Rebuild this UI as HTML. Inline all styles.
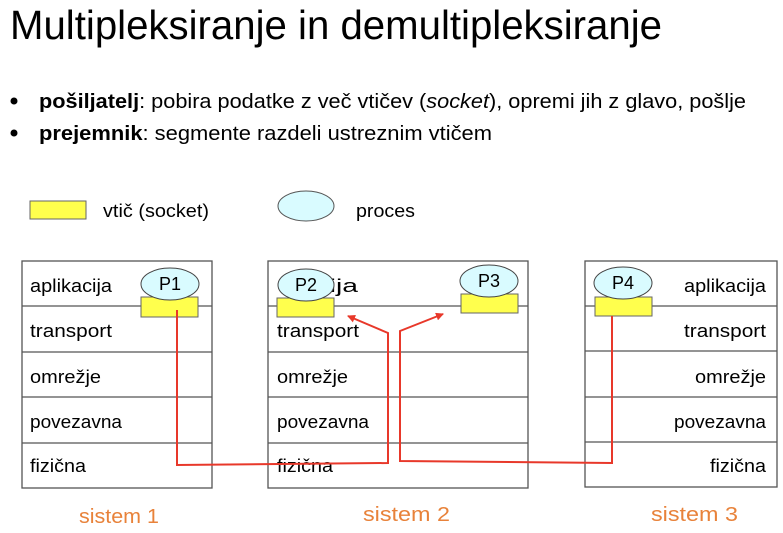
<!DOCTYPE html>
<html><head><meta charset="utf-8"><style>
html,body{margin:0;padding:0;background:#fff}
svg{display:block}
text{font-family:"Liberation Sans",sans-serif}
</style></head><body>
<svg width="783" height="533" viewBox="0 0 783 533" xmlns="http://www.w3.org/2000/svg">
<defs><marker id="ah" markerWidth="8" markerHeight="8" refX="7" refY="4" orient="auto" markerUnits="userSpaceOnUse"><path d="M0,0 L8,4 L0,8 z" fill="#e8382a"/></marker></defs>
<text x="10" y="39" font-size="41" textLength="652" lengthAdjust="spacingAndGlyphs" fill="#000">Multipleksiranje in demultipleksiranje</text>
<circle cx="14" cy="101" r="3.5" fill="#000"/>
<text x="39" y="108" font-size="20" textLength="707" lengthAdjust="spacingAndGlyphs"><tspan font-weight="bold">pošiljatelj</tspan>: pobira podatke z več vtičev (<tspan font-style="italic">socket</tspan>), opremi jih z glavo, pošlje</text>
<circle cx="14" cy="133" r="3.5" fill="#000"/>
<text x="39" y="140" font-size="20" textLength="453" lengthAdjust="spacingAndGlyphs"><tspan font-weight="bold">prejemnik</tspan>: segmente razdeli ustreznim vtičem</text>
<rect x="30" y="201" width="56" height="18" fill="#ffff4d" stroke="#666"/>
<text x="103" y="217" font-size="18" textLength="106" lengthAdjust="spacingAndGlyphs">vtič (socket)</text>
<ellipse cx="306" cy="206" rx="28" ry="15" fill="#d9fbff" stroke="#555"/>
<text x="356" y="217" font-size="18" textLength="59" lengthAdjust="spacingAndGlyphs">proces</text>
<g stroke="#555" stroke-width="1.3" fill="none">
<rect x="22" y="261" width="190" height="227"/>
<line x1="22" y1="306" x2="212" y2="306"/><line x1="22" y1="352" x2="212" y2="352"/><line x1="22" y1="397" x2="212" y2="397"/><line x1="22" y1="443" x2="212" y2="443"/>
<rect x="268" y="261" width="260" height="227"/>
<line x1="268" y1="306" x2="528" y2="306"/><line x1="268" y1="352" x2="528" y2="352"/><line x1="268" y1="397" x2="528" y2="397"/><line x1="268" y1="443" x2="528" y2="443"/>
<rect x="585" y="261" width="192" height="226"/>
<line x1="585" y1="306" x2="777" y2="306"/><line x1="585" y1="351" x2="777" y2="351"/><line x1="585" y1="397" x2="777" y2="397"/><line x1="585" y1="442" x2="777" y2="442"/>
</g>
<g font-size="18">
<text x="30" y="292" textLength="82" lengthAdjust="spacingAndGlyphs">aplikacija</text>
<text x="30" y="337" textLength="82" lengthAdjust="spacingAndGlyphs">transport</text>
<text x="30" y="383" textLength="71" lengthAdjust="spacingAndGlyphs">omrežje</text>
<text x="30" y="428" textLength="92" lengthAdjust="spacingAndGlyphs">povezavna</text>
<text x="30" y="472" textLength="56" lengthAdjust="spacingAndGlyphs">fizična</text>
<text x="300" y="292" textLength="58" lengthAdjust="spacingAndGlyphs">acija</text>
<text x="277" y="337" textLength="82" lengthAdjust="spacingAndGlyphs">transport</text>
<text x="277" y="383" textLength="71" lengthAdjust="spacingAndGlyphs">omrežje</text>
<text x="277" y="428" textLength="92" lengthAdjust="spacingAndGlyphs">povezavna</text>
<text x="277" y="472" textLength="56" lengthAdjust="spacingAndGlyphs">fizična</text>
<text x="766" y="292" text-anchor="end" textLength="82" lengthAdjust="spacingAndGlyphs">aplikacija</text>
<text x="766" y="337" text-anchor="end" textLength="82" lengthAdjust="spacingAndGlyphs">transport</text>
<text x="766" y="383" text-anchor="end" textLength="71" lengthAdjust="spacingAndGlyphs">omrežje</text>
<text x="766" y="428" text-anchor="end" textLength="92" lengthAdjust="spacingAndGlyphs">povezavna</text>
<text x="766" y="472" text-anchor="end" textLength="56" lengthAdjust="spacingAndGlyphs">fizična</text>
</g>
<g fill="#ffff4d" stroke="#666">
<rect x="141" y="297" width="57" height="20"/>
<rect x="277" y="298" width="57" height="19"/>
<rect x="461" y="294" width="57" height="19"/>
<rect x="595" y="297" width="57" height="19"/>
</g>
<g fill="#d9fbff" stroke="#444">
<ellipse cx="170" cy="284" rx="29" ry="16"/>
<ellipse cx="306" cy="285" rx="28" ry="16"/>
<ellipse cx="489" cy="281" rx="29" ry="16"/>
<ellipse cx="623" cy="283" rx="29" ry="16"/>
</g>
<g font-size="18" text-anchor="middle">
<text x="170" y="290">P1</text><text x="306" y="291">P2</text><text x="489" y="287">P3</text><text x="623" y="289">P4</text>
</g>
<g stroke="#e8382a" stroke-width="2" fill="none">
<polyline points="177,310 177,465 388,463 388,333 348,316" marker-end="url(#ah)"/>
<polyline points="612,316 612,463 400,461 400,331 443,314" marker-end="url(#ah)"/>
</g>
<g font-size="20" fill="#e8823a">
<text x="79" y="523" textLength="80" lengthAdjust="spacingAndGlyphs">sistem 1</text>
<text x="363" y="521" textLength="87" lengthAdjust="spacingAndGlyphs">sistem  2</text>
<text x="651" y="521" textLength="87" lengthAdjust="spacingAndGlyphs">sistem  3</text>
</g>
</svg>
</body></html>
